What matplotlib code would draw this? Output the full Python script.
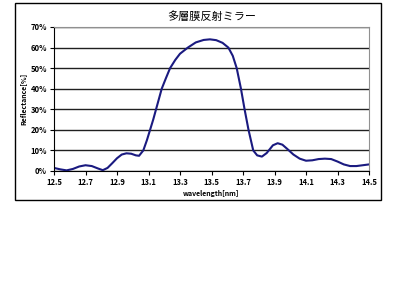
import matplotlib
matplotlib.use('Agg')
import matplotlib.pyplot as plt
from matplotlib.patches import Rectangle
from matplotlib.ticker import FuncFormatter

plt.rcParams['font.family'] = ['Noto Sans CJK JP', 'DejaVu Sans']

# wavelength [nm] and reflectance [%]
wavelength = [12.50, 12.54, 12.58, 12.62, 12.66, 12.70, 12.74, 12.78, 12.81, 12.84,
              12.87, 12.90, 12.93, 12.96, 12.99, 13.02, 13.04, 13.067, 13.09, 13.11,
              13.13, 13.148, 13.166, 13.184, 13.21, 13.237, 13.27, 13.30, 13.35, 13.40,
              13.45, 13.49, 13.53, 13.57, 13.607, 13.635, 13.66, 13.687, 13.71, 13.735,
              13.765, 13.79, 13.82, 13.85, 13.89, 13.92, 13.95, 13.98, 14.02,
              14.06, 14.10, 14.14, 14.18, 14.22, 14.26, 14.30, 14.34, 14.38, 14.42,
              14.46, 14.50]
reflectance = [1.5, 0.8, 0.3, 1.0, 2.2, 2.8, 2.4, 1.2, 0.4, 1.5,
               3.8, 6.2, 8.0, 8.6, 8.4, 7.6, 7.4, 10.0, 15.0, 20.0,
               25.0, 30.0, 35.0, 40.0, 45.0, 50.0, 54.0, 57.0, 60.0, 62.5,
               63.7, 64.0, 63.6, 62.3, 60.0, 56.0, 50.0, 40.0, 30.0, 20.0,
               10.0, 7.6, 7.0, 8.7, 12.5, 13.5, 12.8, 10.8, 8.0,
               6.0, 5.0, 5.2, 5.8, 6.0, 5.8, 4.6, 3.2, 2.4, 2.4,
               2.8, 3.2]

x_ticks = [12.5, 12.7, 12.9, 13.1, 13.3, 13.5, 13.7, 13.9, 14.1, 14.3, 14.5]
y_ticks = [0, 10, 20, 30, 40, 50, 60, 70]

fig = plt.figure(figsize=(4, 3), dpi=100)
fig.patch.set_facecolor('white')

# outer chart frame
fig.patches.append(Rectangle((0.0375, 0.333), 0.915, 0.657, transform=fig.transFigure,
                             fill=False, edgecolor='black', linewidth=1.0))

ax = fig.add_axes([0.135, 0.43, 0.7875, 0.48])
ax.plot(wavelength, reflectance, color='#1a1a80', linewidth=1.5)

ax.set_xlim(12.5, 14.5)
ax.set_ylim(0, 70)
ax.set_xticks(x_ticks)
ax.set_xticklabels([f"{t:.1f}" for t in x_ticks])
ax.set_yticks(y_ticks)
ax.yaxis.set_major_formatter(FuncFormatter(lambda v, p: f"{int(v)}%"))
ax.grid(axis='y', color='#202020', linewidth=1.0)
ax.set_axisbelow(True)

for s in ['top', 'right']:
    ax.spines[s].set_color('#909090')
ax.spines['left'].set_color('black')
ax.spines['bottom'].set_color('black')
ax.tick_params(axis='both', labelsize=5.5, length=3, width=0.8, pad=2)
for lab in ax.get_xticklabels() + ax.get_yticklabels():
    lab.set_fontweight('bold')

ax.set_title('多層膜反射ミラー', fontsize=8, pad=5)
ax.set_xlabel('wavelength[nm]', fontsize=5, labelpad=2, fontweight='bold')
ax.set_ylabel('Reflectance[%]', fontsize=5, labelpad=3, fontweight='bold')

fig.savefig('out.png', dpi=100)
